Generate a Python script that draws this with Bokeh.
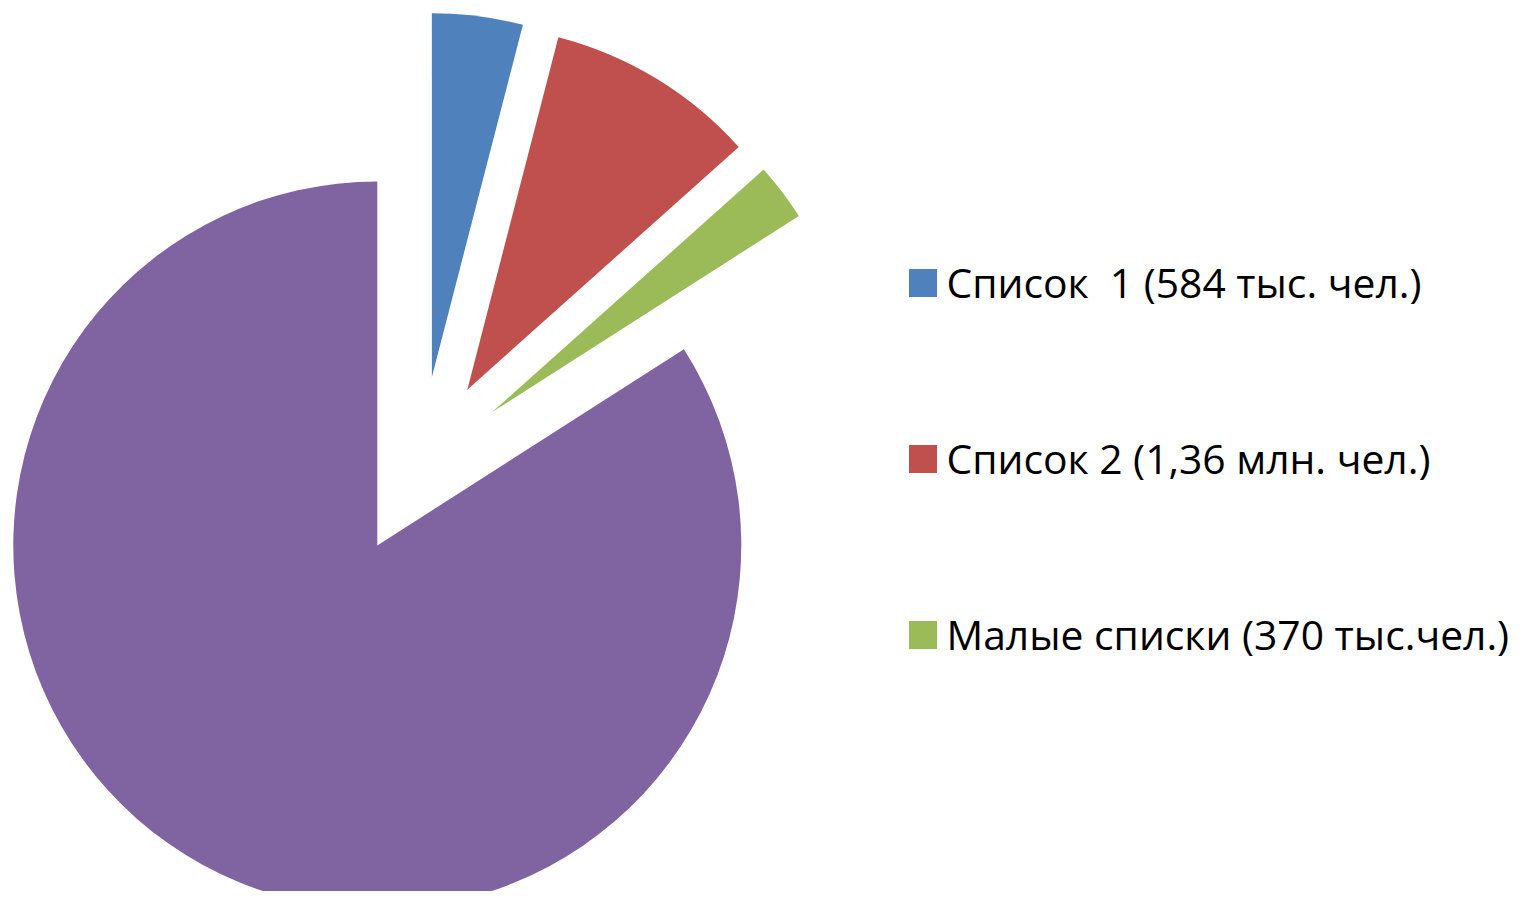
import numpy as np
from bokeh.plotting import figure
from bokeh.models import Range1d, Legend, LegendItem
from bokeh.embed import file_html
from bokeh.resources import INLINE

# ---- data ----
labels = ["Список  1 (584 тыс. чел.)", "Список 2 (1,36 млн. чел.)",
          "Малые списки (370 тыс.чел.)", "Остальные"]
values = [584, 1360, 370, 12200]          # тыс. чел.
colors = ["#4F81BD", "#C0504D", "#9BBB59", "#8064A2"]
in_legend = [True, True, True, False]

# ---- layout / style ----
W, H = 1513, 891
CX, CY = 420, 425       # pie centre (data units == pixels)
R = 364                 # pie radius
EXPLODE = 90            # explosion distance of every slice

p = figure(width=W, height=H, x_range=Range1d(0, W), y_range=Range1d(0, H),
           output_backend="svg", toolbar_location=None, min_border=0,
           x_axis_location=None, y_axis_location=None)
p.grid.visible = False
p.outline_line_color = None
p.background_fill_color = "white"
p.border_fill_color = "white"

total = float(sum(values))
cum = 0.0
items = []
for lab, v, c, leg in zip(labels, values, colors, in_legend):
    a0 = np.pi / 2 - 2 * np.pi * cum / total
    cum += v
    a1 = np.pi / 2 - 2 * np.pi * cum / total
    mid = (a0 + a1) / 2
    x = CX + EXPLODE * np.cos(mid)
    y = CY + EXPLODE * np.sin(mid)
    r = p.wedge(x=[x], y=[y], radius=R, start_angle=a0, end_angle=a1,
                direction="clock", fill_color=c, line_color=None)
    if leg:
        items.append(LegendItem(label=lab, renderers=[r]))

legend = Legend(items=items, location=(904.5, 229), orientation="vertical",
                glyph_width=35, glyph_height=35, label_height=56,
                label_standoff=7, spacing=120, padding=0, margin=0,
                border_line_color=None, background_fill_alpha=0,
                label_text_font="Open Sans", label_text_font_size="40.8px",
                label_text_color="#000000")
p.add_layout(legend, "center")

open("out.html", "w").write(file_html(p, INLINE))
